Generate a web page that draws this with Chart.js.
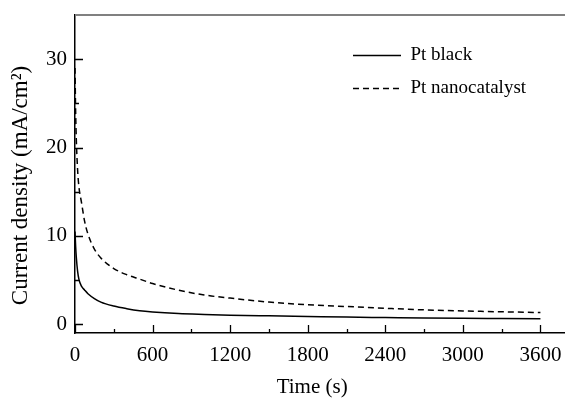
<!DOCTYPE html>
<html>
<head>
<meta charset="utf-8">
<script src="https://cdn.jsdelivr.net/npm/chart.js@4"></script>
<style>
html, body { margin: 0; padding: 0; background: #fff; }
#wrap { width: 565px; height: 398px; }
</style>
</head>
<body>
<div id="wrap"><canvas id="currentChart"></canvas></div>
<script>
// values
const timeS = [0, 5, 10, 20, 30, 50, 75, 100, 150, 200, 300, 400, 500, 600, 800, 1000, 1200, 1500, 1800, 2100, 2400, 2700, 3000, 3300, 3600]
const ptBlack = [10.5, 8.8, 7.6, 6.0, 5.1, 4.3, 3.85, 3.45, 2.9, 2.5, 2.05, 1.75, 1.52, 1.38, 1.2, 1.1, 1.02, 0.94, 0.87, 0.8, 0.75, 0.7, 0.66, 0.63, 0.6]
const ptNano = [29, 24, 21, 17.5, 15.6, 13.8, 11.6, 10.2, 8.5, 7.5, 6.3, 5.6, 5.1, 4.6, 3.85, 3.3, 2.95, 2.5, 2.2, 2.0, 1.8, 1.62, 1.5, 1.4, 1.32]
const xTickLabels = [0, 600, 1200, 1800, 2400, 3000, 3600]
const xMinorTicks = [300, 900, 1500, 2100, 2700, 3300]
const yTickLabels = [0, 10, 20, 30]
const yMinorTicks = [5, 15, 25]

const serif = '"Liberation Serif", "Times New Roman", serif'

// ticks pointing into the plot, plus the grey frame line on top
const inwardTicks = {
    id: 'inwardTicks',
    afterDatasetsDraw(chart) {
        const {ctx, chartArea, scales: {x, y}} = chart
        ctx.save()
        ctx.strokeStyle = '#000'
        ctx.lineWidth = 1.3
        ctx.beginPath()
        xTickLabels.forEach(v => {
            const px = Math.round(x.getPixelForValue(v)) + 0.5
            ctx.moveTo(px, chartArea.bottom)
            ctx.lineTo(px, chartArea.bottom - 8)
        })
        xMinorTicks.forEach(v => {
            const px = Math.round(x.getPixelForValue(v)) + 0.5
            ctx.moveTo(px, chartArea.bottom)
            ctx.lineTo(px, chartArea.bottom - 4)
        })
        yTickLabels.forEach(v => {
            const py = Math.round(y.getPixelForValue(v)) + 0.5
            ctx.moveTo(chartArea.left, py)
            ctx.lineTo(chartArea.left + 8, py)
        })
        yMinorTicks.forEach(v => {
            const py = Math.round(y.getPixelForValue(v)) + 0.5
            ctx.moveTo(chartArea.left, py)
            ctx.lineTo(chartArea.left + 4, py)
        })
        ctx.stroke()
        ctx.strokeStyle = '#808080'
        ctx.lineWidth = 2
        ctx.beginPath()
        ctx.moveTo(chartArea.left, chartArea.top)
        ctx.lineTo(chartArea.right, chartArea.top)
        ctx.stroke()
        ctx.restore()
    }
}

// move the legend to the upper right inside the plot
const legendSpot = {
    id: 'legendSpot',
    afterLayout(chart) {
        const lg = chart.legend
        const h = lg.height
        lg.left = 339
        lg.top = 32
        lg.right = chart.width
        lg.bottom = lg.top + h
    }
}

const noScalePadding = scale => {
    scale.paddingTop = 0
    scale.paddingBottom = 0
    scale.paddingLeft = 0
    scale.paddingRight = 0
}

const currentChart = new Chart('currentChart', {
    type: 'line',
    data: {
        labels: timeS,
        datasets: [{
            label: 'Pt black',
            data: ptBlack,
            borderColor: '#000',
            borderWidth: 1.5,
            pointRadius: 0,
            cubicInterpolationMode: 'monotone',
            fill: false
        }, {
            label: 'Pt nanocatalyst',
            data: ptNano,
            borderColor: '#000',
            borderWidth: 1.5,
            borderDash: [6, 4],
            pointRadius: 0,
            cubicInterpolationMode: 'monotone',
            fill: false
        }]
    },
    options: {
        responsive: true,
        maintainAspectRatio: false,
        animation: false,
        devicePixelRatio: 1,
        layout: { padding: { top: 15, right: 0, left: 0, bottom: 0 } },
        plugins: {
            tooltip: { enabled: false },
            legend: {
                position: 'chartArea',
                align: 'start',
                labels: {
                    usePointStyle: true,
                    pointStyle: 'line',
                    pointStyleWidth: 48,
                    padding: 14,
                    color: '#000',
                    font: { family: serif, size: 19 },
                    generateLabels: chart => {
                        const items = Chart.defaults.plugins.legend.labels.generateLabels(chart)
                        items.forEach(item => {
                            const ds = chart.data.datasets[item.datasetIndex]
                            item.lineDash = ds.borderDash || []
                            item.lineWidth = ds.borderWidth
                            item.strokeStyle = ds.borderColor
                        })
                        return items
                    }
                }
            }
        },
        scales: {
            x: {
                type: 'linear',
                min: 0,
                max: 3790,
                afterBuildTicks: scale => { scale.ticks = xTickLabels.map(v => ({value: v})) },
                afterFit: scale => { scale.height = 65; noScalePadding(scale) },
                grid: { display: true, drawOnChartArea: false, drawTicks: false },
                border: { display: true, color: '#000', width: 1.5 },
                ticks: {
                    color: '#000',
                    padding: 10,
                    maxRotation: 0,
                    callback: v => String(v),
                    font: { family: serif, size: 21 }
                },
                title: {
                    display: true,
                    text: 'Time (s)   ',
                    color: '#000',
                    padding: { top: 0, bottom: 0 },
                    font: { family: serif, size: 21, lineHeight: 1 }
                }
            },
            y: {
                min: -1,
                max: 35,
                afterBuildTicks: scale => { scale.ticks = yTickLabels.map(v => ({value: v})) },
                afterFit: scale => { scale.width = 75; noScalePadding(scale) },
                grid: { display: true, drawOnChartArea: false, drawTicks: false },
                border: { display: true, color: '#000', width: 1.5 },
                ticks: {
                    color: '#000',
                    padding: 8,
                    callback: v => String(v),
                    font: { family: serif, size: 21 }
                },
                title: {
                    display: true,
                    text: 'Current density (mA/cm²)    ',
                    color: '#000',
                    padding: { top: 7, bottom: 0 },
                    font: { family: serif, size: 23 }
                }
            }
        }
    },
    plugins: [inwardTicks, legendSpot]
})
</script>
</body>
</html>
